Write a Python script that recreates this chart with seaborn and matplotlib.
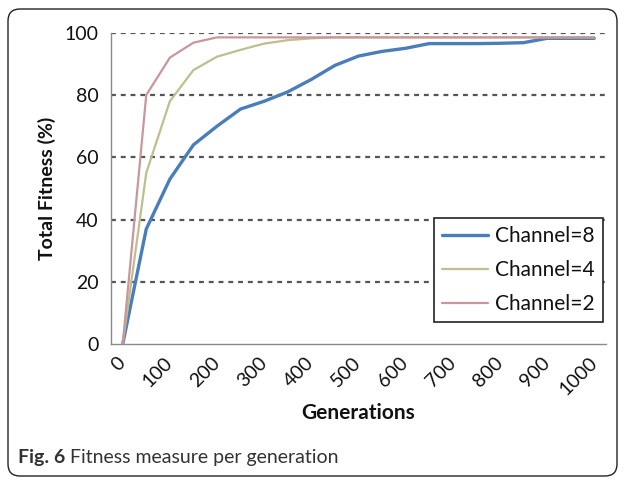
import matplotlib
matplotlib.use("Agg")
import matplotlib.pyplot as plt
import seaborn as sns
import pandas as pd
from matplotlib.patches import FancyBboxPatch
from matplotlib.ticker import FixedLocator

# ---- data ----
generations = [0, 50, 100, 150, 200, 250, 300, 350, 400, 450, 500,
               550, 600, 650, 700, 750, 800, 850, 900, 950, 1000]
channel8 = [0, 37, 53, 64, 70, 75.5, 78, 81, 85, 89.5, 92.5,
            94, 95, 96.5, 96.5, 96.5, 96.6, 96.8, 98.2, 98.2, 98.2]
channel4 = [0, 55, 78, 88, 92.3, 94.5, 96.5, 97.6, 98.2, 98.5, 98.5,
            98.5, 98.5, 98.5, 98.5, 98.5, 98.5, 98.5, 98.5, 98.5, 98.5]
channel2 = [0, 80, 92, 96.8, 98.5, 98.5, 98.5, 98.5, 98.5, 98.5, 98.5,
            98.5, 98.5, 98.5, 98.5, 98.5, 98.5, 98.5, 98.5, 98.5, 98.5]
series_names = ["Channel=8", "Channel=4", "Channel=2"]
x_tick_labels = ["0", "100", "200", "300", "400", "500", "600", "700", "800", "900", "1000"]
y_ticks = [0, 20, 40, 60, 80, 100]

df = pd.concat([
    pd.DataFrame({"Generations": generations, "Fitness": channel8, "Series": series_names[0]}),
    pd.DataFrame({"Generations": generations, "Fitness": channel4, "Series": series_names[1]}),
    pd.DataFrame({"Generations": generations, "Fitness": channel2, "Series": series_names[2]}),
])

sns.set_theme(style="white")
plt.rcParams["font.family"] = ["Lato", "DejaVu Sans"]

W, H = 625, 482
fig = plt.figure(figsize=(W / 100, H / 100), dpi=100)
fig.patch.set_facecolor("white")

# rounded outer frame
frame = FancyBboxPatch((0.08, 0.06), 6.09, 4.67,
                       boxstyle="round,pad=0,rounding_size=0.12",
                       transform=fig.dpi_scale_trans, facecolor="none",
                       edgecolor="#222222", linewidth=1.0)
fig.patches.append(frame)

ax_l, ax_r, ax_t, ax_b = 110.9, 606.0, 32.7, 344.3
ax = fig.add_axes([ax_l / W, 1 - ax_b / H, (ax_r - ax_l) / W, (ax_b - ax_t) / H])

palette = {"Channel=8": "#4A7EBB", "Channel=4": "#BEBE8E", "Channel=2": "#C8979C"}
sizes = {"Channel=8": 2.4, "Channel=4": 1.6, "Channel=2": 1.6}
sns.lineplot(data=df, x="Generations", y="Fitness", hue="Series", size="Series",
             sizes=sizes, palette=palette, hue_order=series_names,
             size_order=series_names, ax=ax, legend="full", zorder=3)

ax.set_xlim(-25, 1025)
ax.set_ylim(0, 100)

# gridlines
for yv in y_ticks[1:]:
    ax.axhline(yv, color="#555555", linewidth=1.6, linestyle=(0, (2.2, 2.2)), zorder=1)

# spines
for s in ["top", "right"]:
    ax.spines[s].set_visible(False)
for s in ["left", "bottom"]:
    ax.spines[s].set_color("#8a8a8a")
    ax.spines[s].set_linewidth(1.0)

ax.set_yticks(y_ticks)
ax.tick_params(axis="y", direction="out", length=5, width=1, color="#8a8a8a",
               labelsize=14, pad=4, labelcolor="#111111")
ax.xaxis.set_major_locator(FixedLocator([int(v) for v in x_tick_labels]))
ax.set_xticklabels(x_tick_labels)
ax.xaxis.set_minor_locator(FixedLocator([g - 25 for g in generations] + [1025]))
ax.tick_params(axis="x", which="major", length=0, labelsize=14, pad=11, labelcolor="#111111")
ax.tick_params(axis="x", which="minor", direction="out", length=5, width=1, color="#8a8a8a")
for lab in ax.get_xticklabels():
    lab.set_rotation(45)
    lab.set_ha("right")
    lab.set_va("center")
    lab.set_rotation_mode("anchor")

ax.set_xlabel("Generations", fontsize=15, fontweight="bold", color="#111111", labelpad=4)
ax.set_ylabel("Total Fitness (%)", fontsize=14, fontweight="bold", color="#111111", labelpad=6)

leg = ax.legend(loc="upper right", bbox_to_anchor=(0.994, 0.405), borderaxespad=0,
                fontsize=15, frameon=True, fancybox=False, framealpha=1,
                edgecolor="#222222", handlelength=2.2, handletextpad=0.35,
                labelspacing=0.68, borderpad=0.38)
leg.get_frame().set_linewidth(1.2)
leg.set_zorder(5)
for t in leg.get_texts():
    t.set_color("#111111")

# caption
t1 = fig.text(18 / W, 1 - 458 / H, "Fig. 6", fontsize=14, fontweight="bold",
              color="#333333", va="center", ha="left")
fig.canvas.draw()
bb = t1.get_window_extent()
fig.text((bb.x1 + 5) / W, 1 - 458 / H, "Fitness measure per generation",
         fontsize=14, color="#333333", va="center", ha="left")

fig.savefig("out.png", dpi=100, facecolor="white")
